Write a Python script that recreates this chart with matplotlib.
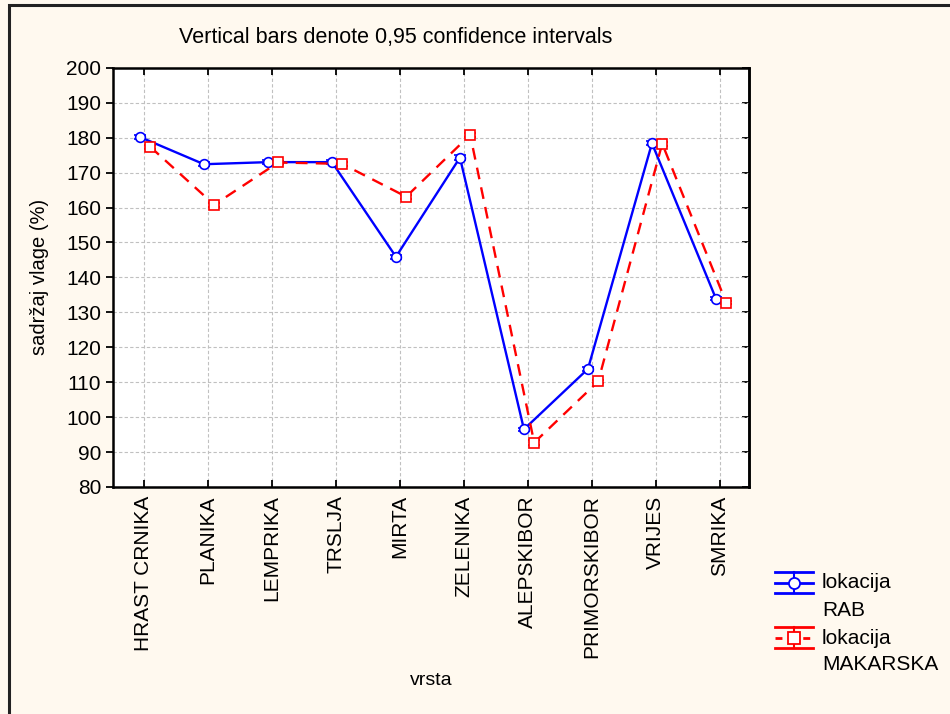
import matplotlib.pyplot as plt
from matplotlib.lines import Line2D
from matplotlib.patches import Rectangle
import numpy as np

plt.rcParams["font.family"] = ["Liberation Sans", "DejaVu Sans"]

species = ["HRAST CRNIKA", "PLANIKA", "LEMPRIKA", "TRSLJA", "MIRTA",
           "ZELENIKA", "ALEPSKIBOR", "PRIMORSKIBOR", "VRIJES", "SMRIKA"]
rab = [180.2, 172.4, 173.0, 173.0, 145.9, 174.3, 96.5, 113.8, 178.4, 133.9]
makarska = [177.4, 160.8, 172.9, 172.5, 163.1, 180.8, 92.7, 110.2, 178.3, 132.8]
rab_ci = [0.6, 0.5, 0.5, 0.5, 0.6, 0.6, 0.5, 0.5, 0.6, 0.5]
makarska_ci = [0.6, 0.6, 0.5, 0.5, 0.6, 0.6, 0.6, 0.5, 0.6, 0.5]

W, H = 950, 714
bg = "#fff9ef"
blue, red = "#0000ff", "#ff0000"
dash = (0, (5, 3.5))

fig = plt.figure(figsize=(W / 100, H / 100), dpi=100, facecolor=bg)
ax = fig.add_axes([0.119, 0.318, 0.669, 0.587])
ax.set_facecolor("white")

x = np.arange(len(species))
ax.errorbar(x - 0.06, rab, yerr=rab_ci, color=blue, lw=1.7,
            marker="o", ms=7, mfc="white", mec=blue, mew=1.2,
            capsize=4, elinewidth=1.2, zorder=3)
ax.errorbar(x + 0.1, makarska, yerr=makarska_ci, color=red, lw=1.7, ls=dash,
            marker="s", ms=7, mfc="white", mec=red, mew=1.2,
            capsize=4, elinewidth=1.2, zorder=3)

ax.set_xlim(-0.48, 9.45)
ax.set_ylim(80, 200)
ax.set_yticks(np.arange(80, 201, 10))
ax.set_xticks(x)
ax.set_xticklabels(species, rotation=90)
ax.grid(True, color="#c0c0c0", ls=(0, (3, 2)), lw=0.8)
ax.set_axisbelow(True)
for s in ax.spines.values():
    s.set_linewidth(1.8)
ax.tick_params(axis="y", direction="out", length=5, width=1.3, labelsize=15)
ax.tick_params(axis="x", direction="in", length=5, width=1.3, labelsize=15,
               top=True, pad=6)

# inward ticks on the right spine
right = ax.secondary_yaxis("right")
right.set_yticks(np.arange(80, 201, 10))
right.tick_params(direction="in", length=5, width=1.3, labelright=False)
right.spines["right"].set_linewidth(1.8)

ax.set_ylabel("sadržaj vlage (%)", fontsize=14.5, labelpad=12)
ax.set_xlabel("vrsta", fontsize=14, labelpad=10)
fig.text(396 / W, 1 - 37 / H, "Vertical bars denote 0,95 confidence intervals",
         fontsize=15.5, ha="center", va="center")


# legend in the Statistica style: caps spanning the whole handle
def px(xp, yp):
    return xp / W, 1 - yp / H


def legend_entry(y0, color, marker, ls, lines):
    x0, x1, xm = 775, 813, 794
    for yy in (y0 - 11, y0 + 10):
        fig.add_artist(Line2D(*zip(px(x0, yy), px(x1, yy)), color=color, lw=2))
    fig.add_artist(Line2D(*zip(px(xm, y0 - 11), px(xm, y0 + 10)), color=color, lw=1.5))
    fig.add_artist(Line2D(*zip(px(x0, y0), px(x1, y0)), color=color, lw=2, ls=ls))
    fig.add_artist(Line2D([px(xm, y0)[0]], [px(xm, y0)[1]], marker=marker, ms=8,
                          mfc="white", mec=color, mew=1.3))
    for i, t in enumerate(lines):
        fig.text(*px(822, y0 + i * 27), t, fontsize=15, va="center", ha="left")


legend_entry(583, blue, "o", "-", ["lokacija", "RAB"])
legend_entry(638, red, "s", (0, (2.5, 2.5)), ["lokacija", "MAKARSKA"])

fig.patches.append(Rectangle((0.009, -0.01), 1.1, 1.003, transform=fig.transFigure,
                             fill=False, ec="#222222", lw=2.2))

fig.savefig("out.png", dpi=100, facecolor=bg)
